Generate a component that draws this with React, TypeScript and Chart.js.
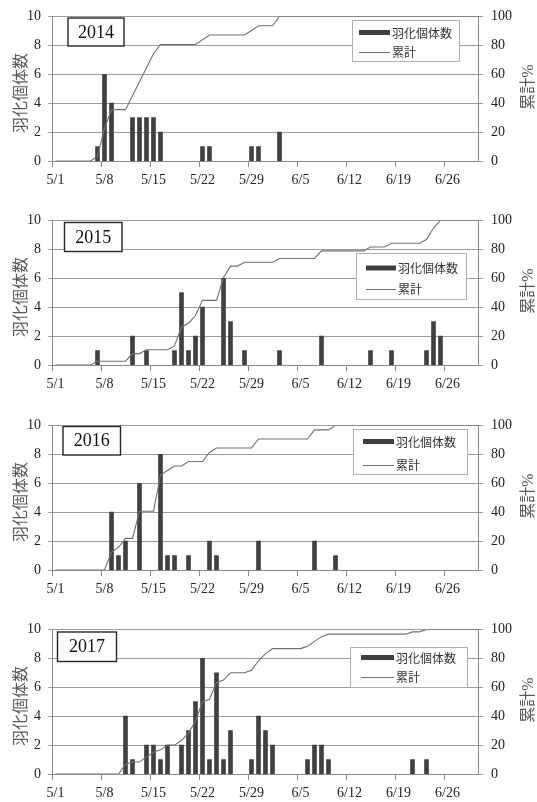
import React, { useEffect, useRef } from 'react';
import { Chart, registerables } from 'chart.js';

Chart.register(...registerables);

// ---- data ----
const X_TICK_LABELS = ['5/1', '5/8', '5/15', '5/22', '5/29', '6/5', '6/12', '6/19', '6/26'];
const AXIS_END = '7/1';
const Y_TICKS = [0, 2, 4, 6, 8, 10];

const days2014 = ['5/7', '5/8', '5/9', '5/12', '5/13', '5/14', '5/15', '5/16', '5/22', '5/23', '5/29', '5/30', '6/2'];
const counts2014 = [1, 6, 4, 3, 3, 3, 3, 2, 1, 1, 1, 1, 2];
const cum2014 = [3.2, 22.6, 35.5, 45.2, 54.8, 64.5, 74.2, 80.6, 83.9, 87.1, 90.3, 93.5, 100];

const days2015 = ['5/7', '5/12', '5/14', '5/18', '5/19', '5/20', '5/21', '5/22', '5/25', '5/26', '5/28', '6/2', '6/8', '6/15', '6/18', '6/23', '6/24', '6/25'];
const counts2015 = [1, 2, 1, 1, 5, 1, 2, 4, 6, 3, 1, 1, 2, 1, 1, 1, 3, 2];
const cum2015 = [2.6, 7.9, 10.5, 13.2, 26.3, 28.9, 34.2, 44.7, 60.5, 68.4, 71.1, 73.7, 78.9, 81.6, 84.2, 86.8, 94.7, 100];

const days2016 = ['5/9', '5/10', '5/11', '5/13', '5/16', '5/17', '5/18', '5/20', '5/23', '5/24', '5/30', '6/7', '6/10'];
const counts2016 = [4, 1, 2, 6, 8, 1, 1, 1, 2, 1, 2, 2, 1];
const cum2016 = [12.5, 15.6, 21.9, 40.6, 65.6, 68.8, 71.9, 75.0, 81.3, 84.4, 90.6, 96.9, 100];

const days2017 = ['5/11', '5/12', '5/14', '5/15', '5/16', '5/17', '5/19', '5/20', '5/21', '5/22', '5/23', '5/24', '5/25', '5/26', '5/29', '5/30', '5/31', '6/1', '6/6', '6/7', '6/8', '6/9', '6/21', '6/23'];
const counts2017 = [4, 1, 2, 2, 1, 2, 2, 3, 5, 8, 1, 7, 1, 3, 1, 4, 3, 2, 1, 2, 2, 1, 1, 1];
const cum2017 = [6.7, 8.3, 11.7, 15.0, 16.7, 20.0, 23.3, 28.3, 36.7, 50.0, 51.7, 63.3, 65.0, 70.0, 71.7, 78.3, 83.3, 86.7, 88.3, 91.7, 95.0, 96.7, 98.3, 100];

const BAR_LABEL = '羽化個体数';
const LINE_LABEL = '累計';
const Y_TITLE = '羽化個体数';
const Y1_TITLE = '累計%';

// ---- helpers ----
function dayIndex(s: string): number {
  const [m, d] = s.split('/').map(Number);
  if (m === 5) return d - 1;
  if (m === 6) return 31 + d - 1;
  return 61 + d - 1;
}

const GRID = '#9c9c9c';
const AXIS = '#8a8a8a';
const TICK_COLOR = '#222';
const tickFont = () => ({ family: "'Liberation Serif', 'Times New Roman', serif", size: 14 });

type PanelLayout = {
  top: number;
  height: number;
  yearBox: [number, number, number, number];
  legend: { x: number; y: number; w: number; h: number; sx: number; sw: number; r1: number; r2: number };
};

const PANELS = [
  { year: '2014', days: days2014, counts: counts2014, cum: cum2014 },
  { year: '2015', days: days2015, counts: counts2015, cum: cum2015 },
  { year: '2016', days: days2016, counts: counts2016, cum: cum2016 },
  { year: '2017', days: days2017, counts: counts2017, cum: cum2017 },
];

const LAYOUTS: PanelLayout[] = [
  { top: 0, height: 204, yearBox: [68, 18, 56, 28], legend: { x: 352, y: 20, w: 107, h: 41, sx: 359, sw: 31, r1: 32.5, r2: 51.5 } },
  { top: 204, height: 205, yearBox: [64.5, 18.5, 57.5, 29], legend: { x: 356, y: 49, w: 110, h: 46, sx: 366, sw: 30, r1: 64, r2: 85 } },
  { top: 409, height: 204, yearBox: [63, 17.5, 57.5, 28.5], legend: { x: 353, y: 20, w: 114, h: 45, sx: 363, sw: 31, r1: 32.5, r2: 56 } },
  { top: 613, height: 189, yearBox: [57.5, 19, 59, 29.5], legend: { x: 350, y: 34, w: 117, h: 40, sx: 361, sw: 33, r1: 44.5, r2: 64 } },
];

const PLOT_TOP = 13;
const PLOT_H = 148;
const PLOT_LEFT = 52;
const PLOT_RIGHT = 479;

const fin = (v: any, fb: number) => (typeof v === 'number' && isFinite(v) ? v : fb);

// grid, axis lines and tick marks on a given 2d context, placed by the chart's scales
function drawGrid(ctx: CanvasRenderingContext2D, chart: any) {
  const a = chart.chartArea || {};
  const xs = chart.scales && chart.scales.x;
  const ys = chart.scales && chart.scales.y;
  const aL = fin(a.left, PLOT_LEFT);
  const aR = fin(a.right, PLOT_RIGHT);
  const aT = fin(a.top, PLOT_TOP);
  const aB = fin(a.bottom, PLOT_TOP + PLOT_H);
  const left = Math.round(aL);
  const right = Math.round(aR) - 1;
  const top = Math.round(aT);
  const bottom = Math.round(aB);
  const yPix = (v: number) => {
    const p = ys ? ys.getPixelForValue(v) : NaN;
    return Math.round(fin(p, aT + ((10 - v) / 10) * (aB - aT)));
  };
  const xPix = (v: number) => {
    const p = xs ? xs.getPixelForValue(v) : NaN;
    return Math.round(fin(p, aL + (v / dayIndex(AXIS_END)) * (aR - aL)));
  };
  ctx.save();
  ctx.setTransform(1, 0, 0, 1, 0, 0);
  ctx.globalAlpha = 1;
  ctx.globalCompositeOperation = 'source-over';
  ctx.fillStyle = GRID;
  Y_TICKS.forEach((v) => {
    ctx.fillRect(left - 4, yPix(v), right - left + 9, 1);
  });
  ctx.fillStyle = AXIS;
  X_TICK_LABELS.forEach((l) => {
    ctx.fillRect(xPix(dayIndex(l)), bottom, 1, 6);
  });
  ctx.fillRect(left, top, 1, bottom - top + 1);
  ctx.fillRect(right, top, 1, bottom - top + 1);
  ctx.fillRect(left, bottom, right - left + 1, 1);
  ctx.restore();
}

const gridPlugin = {
  id: 'manualGrid',
  beforeDatasetsDraw(chart: any) {
    drawGrid(chart.ctx, chart);
  },
};

const overlayPlugin = {
  id: 'overlay',
  afterDraw(chart: any, _args: any, opts: any) {
    const ctx: CanvasRenderingContext2D = chart.ctx;
    ctx.save();
    const [bx, by, bw, bh] = opts.yearBox;
    ctx.fillStyle = '#fff';
    ctx.fillRect(bx, by, bw, bh);
    ctx.strokeStyle = '#262626';
    ctx.lineWidth = 1.4;
    ctx.strokeRect(bx, by, bw, bh);
    ctx.fillStyle = '#111';
    ctx.font = "18px 'Liberation Serif', serif";
    ctx.textAlign = 'center';
    ctx.textBaseline = 'middle';
    ctx.fillText(opts.year, bx + bw / 2, by + bh / 2 + 1);

    const L = opts.legend;
    ctx.fillStyle = '#fff';
    ctx.fillRect(L.x, L.y, L.w, L.h);
    ctx.strokeStyle = '#b0b0b0';
    ctx.lineWidth = 1;
    ctx.strokeRect(L.x + 0.5, L.y + 0.5, L.w, L.h);
    ctx.fillStyle = '#404040';
    ctx.fillRect(L.sx, L.r1 - 2.5, L.sw, 5);
    ctx.strokeStyle = '#707070';
    ctx.beginPath();
    ctx.moveTo(L.sx, Math.round(L.r2) + 0.5);
    ctx.lineTo(L.sx + L.sw, Math.round(L.r2) + 0.5);
    ctx.stroke();
    ctx.fillStyle = '#333';
    ctx.font = "12px 'Noto Sans CJK JP', sans-serif";
    ctx.textAlign = 'left';
    ctx.fillText(BAR_LABEL, L.sx + L.sw + 2, L.r1 + 0.5);
    ctx.fillText(LINE_LABEL, L.sx + L.sw + 2, L.r2 + 0.5);

    ctx.fillStyle = '#595959';
    ctx.textAlign = 'center';
    ctx.save();
    ctx.translate(19.5, 93);
    ctx.rotate(-Math.PI / 2);
    ctx.font = "16px 'Noto Sans CJK JP', sans-serif";
    ctx.fillText(Y_TITLE, 0, 0);
    ctx.restore();
    ctx.save();
    ctx.translate(529, 87);
    ctx.rotate(-Math.PI / 2);
    ctx.font = "16px 'Liberation Serif', 'Noto Sans CJK JP', serif";
    ctx.fillText(Y1_TITLE, 0, 0);
    ctx.restore();
    ctx.restore();
  },
};

function buildLine(days: string[], cum: number[]) {
  const pts: { x: number; y: number }[] = [{ x: 0.5, y: 0 }];
  let prevIdx = 0;
  let prevCum = 0;
  days.forEach((d, i) => {
    const idx = dayIndex(d);
    if (idx - 1 > prevIdx) pts.push({ x: idx - 1 + 0.5, y: prevCum });
    pts.push({ x: idx + 0.5, y: cum[i] });
    prevIdx = idx;
    prevCum = cum[i];
  });
  pts.push({ x: dayIndex(AXIS_END), y: prevCum });
  return pts;
}

function Panel({ index }: { index: number }) {
  const ref = useRef<HTMLCanvasElement>(null);
  const gridRef = useRef<HTMLCanvasElement>(null);
  const p = PANELS[index];
  const lay = LAYOUTS[index];
  useEffect(() => {
    if (!ref.current) return;
    const tickPos = X_TICK_LABELS.map(dayIndex);
    const labelMap: Record<number, string> = {};
    X_TICK_LABELS.forEach((l) => (labelMap[dayIndex(l)] = l));
    const H = lay.height;
    const chart = new Chart(ref.current, {
      type: 'bar',
      data: {
        datasets: [
          {
            type: 'line',
            label: LINE_LABEL,
            data: buildLine(p.days, p.cum),
            yAxisID: 'y1',
            borderColor: '#707070',
            backgroundColor: 'transparent',
            fill: false,
            borderWidth: 1.1,
            pointRadius: 0,
            tension: 0,
            order: 0,
          } as any,
          {
            type: 'bar',
            label: BAR_LABEL,
            data: p.days.map((d, i) => ({ x: dayIndex(d) + 0.5, y: p.counts[i] })),
            yAxisID: 'y',
            backgroundColor: '#404040',
            barThickness: 4,
            order: 1,
          } as any,
        ],
      },
      options: {
        responsive: false,
        animation: false,
        layout: { padding: { top: PLOT_TOP, left: 0, right: 0, bottom: 0 } },
        plugins: {
          legend: { display: false },
          tooltip: { enabled: false },
          overlay: { year: p.year, yearBox: lay.yearBox, legend: lay.legend },
        } as any,
        scales: {
          x: {
            type: 'linear',
            min: 0,
            max: dayIndex(AXIS_END),
            offset: false,
            afterBuildTicks: (s: any) => {
              s.ticks = tickPos.map((v) => ({ value: v }));
            },
            afterFit: (s: any) => {
              s.height = H - PLOT_TOP - PLOT_H;
            },
            ticks: {
              autoSkip: false,
              maxRotation: 0,
              padding: 6,
              labelOffset: 3.5,
              font: tickFont(),
              color: TICK_COLOR,
              callback: (v: any) => labelMap[v] ?? '',
            },
            grid: { display: false, offset: false, tickLength: 5 },
            border: { display: false },
          },
          y: {
            position: 'left',
            min: 0,
            max: 10,
            afterFit: (s: any) => {
              s.width = PLOT_LEFT;
            },
            ticks: { stepSize: 2, padding: 7, font: tickFont(), color: TICK_COLOR },
            grid: { display: false, tickLength: 4 },
            border: { display: false },
          },
          y1: {
            position: 'right',
            min: 0,
            max: 100,
            afterFit: (s: any) => {
              s.width = 537 - PLOT_RIGHT;
            },
            ticks: { stepSize: 20, padding: 8, font: tickFont(), color: TICK_COLOR },
            grid: { display: false, tickLength: 4 },
            border: { display: false },
          },
        } as any,
      },
      plugins: [gridPlugin as any, overlayPlugin as any],
    });
    // second pass of the grid on a canvas lying underneath the chart
    if (gridRef.current) {
      const g = gridRef.current.getContext('2d');
      if (g) {
        g.clearRect(0, 0, 537, H);
        drawGrid(g, chart);
      }
    }
    return () => chart.destroy();
  }, []);
  return (
    <>
      <canvas
        ref={gridRef}
        width={537}
        height={lay.height}
        style={{ position: 'absolute', left: 0, top: lay.top }}
      />
      <canvas
        ref={ref}
        width={537}
        height={lay.height}
        style={{ position: 'absolute', left: 0, top: lay.top }}
      />
    </>
  );
}

export default function App() {
  return (
    <div style={{ position: 'absolute', left: 0, top: 0, width: 537, height: 802 }}>
      {PANELS.map((_, i) => (
        <Panel key={i} index={i} />
      ))}
    </div>
  );
}
